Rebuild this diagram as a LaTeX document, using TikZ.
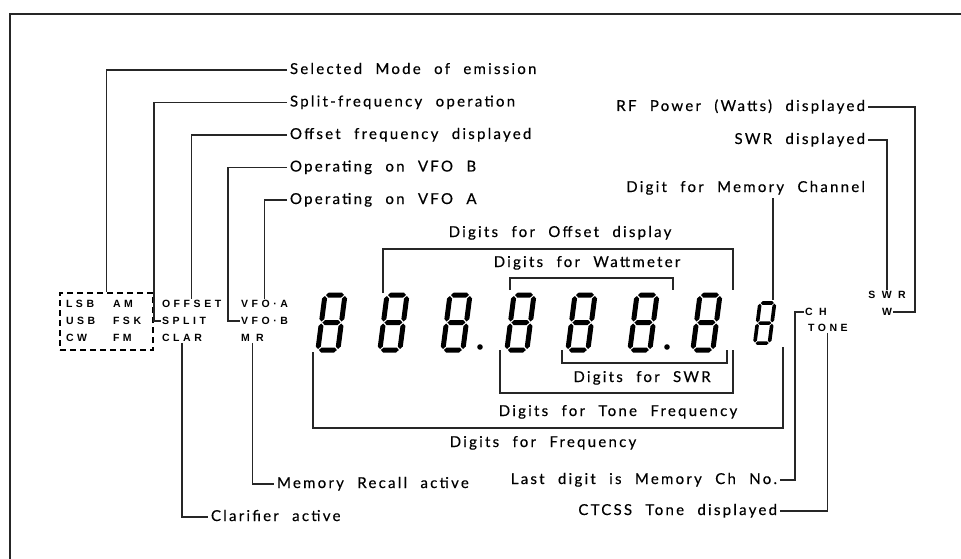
\documentclass[tikz,border=0pt]{standalone}
\usepackage{fontspec}
\setmainfont{Lato}
\newfontfamily\lblfont[LetterSpace=15,WordSpace=2.2,FakeBold=0.4]{Lato}
\newfontfamily\panelfont[LetterSpace=34]{Liberation Sans}
\usetikzlibrary{positioning}

\tikzset{
  sevenseg/.pic={
    \begin{scope}[xslant=0.13]
      % horizontal bars
      \foreach \y in {0,27.5,55}
        \fill (1,\y) -- ++(2.5,-2.5) -- ++(13,0) -- ++(2.5,2.5)
              -- ++(-2.5,2.5) -- ++(-13,0) -- cycle;
      % vertical bars
      \foreach \x in {0,20}
        \foreach \y in {0,27.5}
          \fill (\x,\y+1) -- ++(2.5,2.5) -- ++(0,20.5) -- ++(-2.5,2.5)
                -- ++(-2.5,-2.5) -- ++(0,-20.5) -- cycle;
    \end{scope}
  }
}

\begin{document}
\begin{tikzpicture}[x=1pt,y=-1pt,node distance=32.5pt,on grid,
    lbl/.style={font=\lblfont\fontsize{15}{17}\selectfont, inner sep=0pt, outer sep=3pt,
                text height=11pt, text depth=3pt},
    panel/.style={font=\panelfont\bfseries\fontsize{10.5}{12}\selectfont, inner sep=0pt, outer sep=1pt,
                text height=7.5pt, text depth=0pt},
    lead/.style={line width=1.2pt, black!85},
    modebox/.style={draw, dashed, dash pattern=on 6pt off 4pt, line width=1.2pt,
                minimum width=93pt, minimum height=57pt, inner sep=0pt}]
   \useasboundingbox (0,0) rectangle (961,559);
   \draw[lead] (961,14) -| (10,559);

   % mode box and panel legends
   \node[modebox] (modes) at (106.5,321.5) {};
   \foreach \l/\r [count=\i] in {LSB/AM, USB/FSK, CW/FM} {
     \node[panel, anchor=west] (ml\i) at (65,287+17*\i) {\l};
     \node[panel, anchor=west] (mr\i) at (112,287+17*\i) {\r};
   }
   \node[panel, anchor=west] (OFFSET) at (161,304) {OFFSET};
   \node[panel, below=17pt of OFFSET.west, anchor=west] (SPLIT) {SPLIT};
   \node[panel, below=17pt of SPLIT.west, anchor=west] (CLAR) {CLAR};
   \node[panel, anchor=west] (VFOA) at (240,304) {VFO·A};
   \node[panel, below=17pt of VFOA.west, anchor=west] (VFOB) {VFO·B};
   \node[panel, below=17pt of VFOB.west, anchor=west] (MR) {M R};
   \node[panel, anchor=west] (CH) at (804,312) {C H};
   \node[panel, anchor=west] (TONE) at (807,328) {TONE};
   \node[panel] (swrlbl) at (887,295) {S W R};
   \node[panel, below=17pt of swrlbl] (W) {W};

   % the digits
   \foreach \x in {325,387,450,514,575,637,700}
     \pic at (\x,295) {sevenseg};
   \pic[scale=0.73] at (760,303) {sevenseg};
   \fill (480,347) circle (2.8) (667,347) circle (2.8);
   \coordinate (chdig) at (773,300);

   % labels, left
   \node[lbl, anchor=west] (selmode) at (287,70) {Selected Mode of emission};
   \node[lbl, below=of selmode.west, anchor=west] (splitop) {Split-frequency operation};
   \node[lbl, below=of splitop.west, anchor=west] (offop) {Offset frequency displayed};
   \node[lbl, below=of offop.west, anchor=west] (vfobop) {Operating on VFO B};
   \node[lbl, below=of vfobop.west, anchor=west] (vfoaop) {Operating on VFO A};
   \node[lbl, anchor=west] (mrop) at (274,484) {Memory Recall active};
   \node[lbl, anchor=west] (clarop) at (208,517) {Clarifier active};

   % labels, right
   \node[lbl, anchor=east] (rfop) at (868,107) {RF Power (Watts) displayed};
   \node[lbl, below=33pt of rfop.east, anchor=east] (swrop) {SWR displayed};
   \node[lbl, below=48pt of swrop.east, anchor=east] (memch) {Digit for Memory Channel};
   \node[lbl, anchor=east] (lastop) at (780,480) {Last digit is Memory Ch No.};
   \node[lbl, below=31pt of lastop.east, anchor=east] (ctcss) {CTCSS Tone displayed};

   % labels of the digit groups
   \node[lbl] (offdig) at (560,233) {Digits for Offset display};
   \node[lbl] (wattdig) at (587,263) {Digits for Wattmeter};
   \node[lbl] (swrdig) at (642,378) {Digits for SWR};
   \node[lbl] (tonedig) at (618,412) {Digits for Tone Frequency};
   \node[lbl] (freqdig) at (543,443) {Digits for Frequency};

   % brackets over and under the digits
   \draw[lead] (383,293) |- (733,249) -- (733,290);
   \draw[lead] (510,290) |- (673,278) -- (673,290);
   \draw[lead] (562,350) |- (727,363) -- (727,350);
   \draw[lead] (500,350) |- (733,393) -- (733,350);
   \draw[lead] (313,352) |- (783,428) -- (783,347);

   % leaders
   \draw[lead] (selmode.west) -| (modes.north);
   \draw[lead] (splitop.west) -| ([xshift=-7pt]SPLIT.west) -- (SPLIT.west);
   \draw[lead] (offop.west) -| (OFFSET.north);
   \draw[lead] (vfobop.west) -| ([xshift=-12pt]VFOB.west) -- (VFOB.west);
   \draw[lead] (vfoaop.west) -| (VFOA.north);
   \draw[lead] (CLAR.south) |- (clarop.west);
   \draw[lead] (MR.south) |- (mrop.west);
   \draw[lead] (rfop.east) -| ([xshift=22pt]W.east) -- (W.east);
   \draw[lead] (swrop.east) -| (swrlbl.north);
   \draw[lead] (memch.south -| chdig) -- (chdig);
   \draw[lead] (CH.west) -- ++(-9,0) |- (lastop.east);
   \draw[lead] (TONE.south) |- (ctcss.east);
\end{tikzpicture}
\end{document}
